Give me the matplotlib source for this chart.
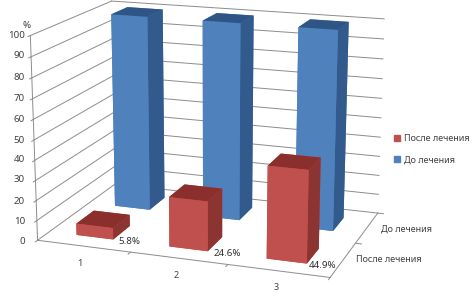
import matplotlib
matplotlib.use('Agg')
import matplotlib.pyplot as plt
from matplotlib.patches import Patch

plt.rcParams['font.family'] = ['Noto Sans', 'DejaVu Sans']

# Data
categories = ['1', '2', '3']
series_names = ['После лечения', 'До лечения']
after = [5.8, 24.6, 44.9]
before = [100, 100, 100]
z_levels = [0, 10, 20, 30, 40, 50, 60, 70, 80, 90, 100]

W, H = 475, 297
GREY = '#8c8c8c'
TEXT = '#404040'
BAR_W = 0.40
BAR_D = 0.44


def px(x, y):
    # figure fraction from reference pixels
    return x / W, 1 - y / H


fig = plt.figure(figsize=(W / 100, H / 100), dpi=100)

# 3D axes centred on the chart box
S = 400
cx, cy = 207, 134
ax = fig.add_axes([(cx - S / 2) / W, 1 - (cy + S / 2) / H, S / W, S / H],
                  projection='3d', computed_zorder=False)
ax.view_init(elev=15.5, azim=-70.5)
ax.set_proj_type('persp', focal_length=0.65)
ax.set_box_aspect((324, 210, 224))
ax.set_axis_off()
ax.patch.set_alpha(0)


def grey_line(xs, ys, zs, z=1):
    ax.plot(xs, ys, zs, color=GREY, lw=0.7, zorder=z)


# Gridlines on the side and back walls
for lev in z_levels:
    grey_line([0, 0], [0, 2], [lev, lev])
    grey_line([0, 3], [2, 2], [lev, lev])
    grey_line([0, 0], [0, -0.05], [lev, lev])

# Axis lines and tick marks
grey_line([0, 0], [0, 0], [0, 100])
grey_line([0, 3], [0, 0], [0, 0])
grey_line([3, 3], [0, 2], [0, 0])
for t in range(1, 4):
    grey_line([t, t], [0, -0.06], [0, 0])
grey_line([3, 3.06], [1, 1], [0, 0])
grey_line([3, 3.06], [2, 2], [0, 0])

# faces: bottom, top, front, back, left, right
blue_faces = ['#4f81bd', '#2f5587', '#4f81bd', '#4f81bd', '#4f81bd', '#325a8c']
red_faces = ['#c0504d', '#8b2f2c', '#c0504d', '#c0504d', '#c0504d', '#8c3432']

order = 10
for i, v in enumerate(before):
    ax.bar3d(i + 0.5 - BAR_W / 2, 1.5 - BAR_D / 2, 0, BAR_W, BAR_D, v,
             color=blue_faces, shade=False, zorder=order)
    order += 1
for i, v in enumerate(after):
    ax.bar3d(i + 0.5 - BAR_W / 2, 0.5 - BAR_D / 2, 0, BAR_W, BAR_D, v,
             color=red_faces, shade=False, zorder=order)
    order += 1

ax.set_xlim(0, 3, view_margin=0)
ax.set_ylim(0, 2, view_margin=0)
ax.set_zlim(0, 100, view_margin=0)

# Value axis labels
for lev, y in zip(z_levels, [241, 221, 201, 180, 160, 140, 119, 98, 77, 56, 35]):
    x, yy = px(25, y)
    fig.text(x, yy, str(lev), ha='right', va='center', fontsize=7, color=TEXT)
x, yy = px(27, 25)
fig.text(x, yy, '%', ha='center', va='center', fontsize=7, color=TEXT)

# Category labels
for lab, pos in zip(categories, [(80, 264), (176, 275), (276, 287)]):
    x, yy = px(*pos)
    fig.text(x, yy, lab, ha='center', va='center', fontsize=6.5, color=TEXT)

# Series labels along the depth axis
x, yy = px(381, 229)
fig.text(x, yy, series_names[1], ha='left', va='center', fontsize=6.5, color=TEXT)
x, yy = px(356, 260)
fig.text(x, yy, series_names[0], ha='left', va='center', fontsize=6.5, color=TEXT)

# Value labels
for v, pos in zip(after, [(129, 241), (227, 253), (323, 265)]):
    x, yy = px(*pos)
    fig.text(x, yy, f'{v}%', ha='center', va='center', fontsize=7, color='#303030')

# Legend
handles = [Patch(color='#c0504d'), Patch(color='#4f81bd')]
fig.legend(handles, series_names, loc='center left', bbox_to_anchor=px(394, 149),
           frameon=False, fontsize=6.5, labelcolor=TEXT, handlelength=0.7,
           handleheight=0.7, handletextpad=0.4, labelspacing=1.35,
           borderpad=0, borderaxespad=0)

fig.savefig('out.png', dpi=100)
